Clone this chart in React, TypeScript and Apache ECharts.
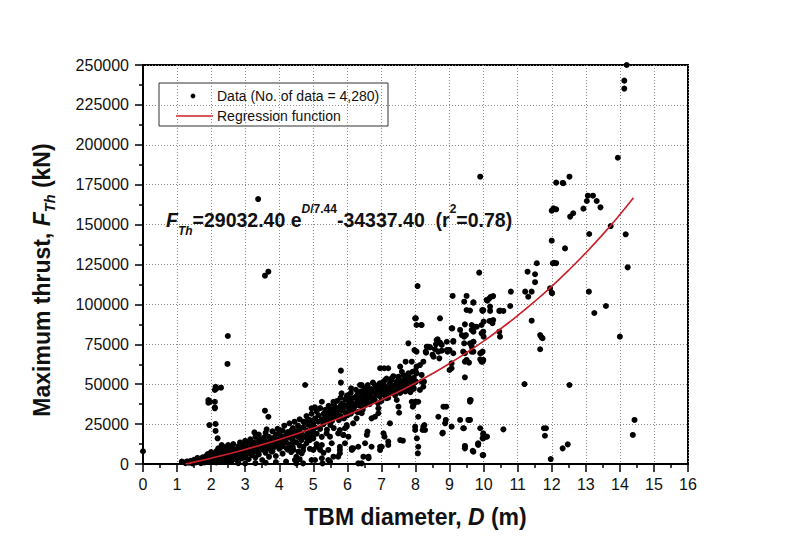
import React, { useEffect, useRef } from "react";
import * as echarts from "echarts";

// TBM diameter D (m), maximum thrust F (kN)
const bandPoints: [number, number][] = [
  [1.15,1200],[1.25,500],[1.3,1500],[1.35,800],[1.4,2000],[1.45,300],[1.5,1800],[1.5,2600],
  [1.55,1000],[1.6,2500],[1.6,3800],[1.65,1500],[1.7,3000],[1.7,500],[1.75,4200],[1.75,2200],[1.8,1000],[1.8,3500],[1.85,5000],[1.85,2000],[1.9,3000],[1.9,6200],[1.95,1200],[1.95,4500],[2.0,2500],[2.0,5500],[2.0,7500],
  [2.05,1500],[2.05,4000],[2.1,6000],[2.1,3000],[2.15,8000],[2.15,1000],[2.2,5000],[2.2,2500],[2.25,7000],[2.25,3800],[2.3,9000],[2.3,1800],[2.35,5500],[2.35,4000],[2.4,7500],[2.4,2800],[2.4,10500],[2.45,6000],[2.45,1200],[2.5,4500],[2.5,8500],[2.5,11500],
  [2.55,3000],[2.55,6500],[2.6,9500],[2.6,5000],[2.6,1800],[2.65,7500],[2.65,12500],[2.7,4000],[2.7,9000],[2.75,6500],[2.75,2500],[2.8,11000],[2.8,8000],[2.85,5000],[2.85,13500],[2.9,7000],[2.9,3500],[2.9,10000],[2.95,12000],[2.95,6000],[3.0,8500],[3.0,4000],[3.0,14500],
  [3.05,10500],[3.05,6500],[3.1,12500],[3.1,3000],[3.1,8000],[3.15,15500],[3.15,9500],[3.2,5500],[3.2,11500],[3.25,13500],[3.25,7500],[3.3,17000],[3.3,10000],[3.3,4000],[3.35,12000],[3.35,8500],[3.4,14500],[3.4,6000],[3.4,18500],[3.45,11000],[3.45,15500],[3.5,9000],[3.5,13000],[3.5,2500],
  [3.55,16500],[3.55,11500],[3.6,7000],[3.6,14000],[3.6,19500],[3.65,12500],[3.65,9500],[3.7,17000],[3.7,4500],[3.75,15000],[3.75,11000],[3.8,20500],[3.8,13500],[3.8,8000],[3.85,16500],[3.85,10500],[3.9,18500],[3.9,14000],[3.9,5000],[3.95,12000],[3.95,22000],[4.0,15500],[4.0,9500],[4.0,19000],
  [4.05,13000],[4.05,17500],[4.1,21000],[4.1,11000],[4.1,6500],[4.15,15500],[4.15,24000],[4.2,18500],[4.2,13500],[4.25,9000],[4.25,20000],[4.3,16500],[4.3,25500],[4.3,12000],[4.35,19000],[4.35,7500],[4.4,22500],[4.4,15000],[4.4,10500],[4.45,18000],[4.45,26500],[4.5,20500],[4.5,13500],[4.5,4500],
  [4.55,17000],[4.55,24000],[4.6,21500],[4.6,11500],[4.6,28000],[4.65,19000],[4.65,15000],[4.7,23000],[4.7,8500],[4.75,26000],[4.75,17500],[4.8,21000],[4.8,30000],[4.8,13000],[4.85,24500],[4.85,19500],[4.9,27500],[4.9,9500],[4.95,22500],[4.95,31500],[5.0,25500],[5.0,16000],[5.0,20000],
  [5.05,28500],[5.05,23000],[5.1,33000],[5.1,19000],[5.1,12500],[5.15,26500],[5.15,30500],[5.2,22000],[5.2,35000],[5.25,28000],[5.25,17000],[5.3,31500],[5.3,25000],[5.3,7000],[5.35,29500],[5.35,34000],[5.4,27000],[5.4,21500],[5.45,32000],[5.45,36500],[5.5,29000],[5.5,24500],[5.5,34500],
  [5.55,31000],[5.55,27000],[5.6,37500],[5.6,33000],[5.6,22500],[5.65,29500],[5.65,35500],[5.7,39500],[5.7,31500],[5.75,27500],[5.75,34000],[5.8,36500],[5.8,30000],[5.8,41500],[5.85,33500],[5.85,38000],[5.9,28500],[5.9,35500],[5.95,40500],[5.95,32000],[6.0,37000],[6.0,30500],[6.0,43000],
  [6.05,34500],[6.05,39500],[6.1,36000],[6.1,31500],[6.1,44500],[6.15,38000],[6.15,33000],[6.2,41500],[6.2,35500],[6.25,46500],[6.25,37500],[6.3,39500],[6.3,32500],[6.3,43500],[6.35,36500],[6.35,41000],[6.4,45500],[6.4,38500],[6.45,34000],[6.45,42500],[6.5,40000],[6.5,47000],[6.5,36500],
  [6.55,43500],[6.55,39000],[6.6,45500],[6.6,41000],[6.6,49500],[6.65,37500],[6.65,44000],[6.7,47000],[6.7,42000],[6.75,39500],[6.75,51000],[6.8,45000],[6.8,40500],[6.85,48000],[6.85,43500],[6.9,38000],[6.9,46500],[6.95,50500],[6.95,42500],[7.0,44500],[7.0,48500],[7.0,39500],
  [7.05,46500],[7.05,51500],[7.1,43000],[7.1,49000],[7.15,45500],[7.15,53500],[7.2,47500],[7.2,41500],[7.25,50500],[7.25,44500],[7.3,52500],[7.3,48000],[7.35,45000],[7.35,55000],[7.4,49500],[7.4,43000],[7.45,51500],[7.45,46500],[7.5,53500],[7.5,48000],
  [7.55,50000],[7.55,44500],[7.6,52000],[7.6,47000],[7.65,55500],[7.65,49500],[7.7,45500],[7.7,53000],[7.75,50500],[7.8,47500],[7.8,56000],[7.85,52000],[7.85,45000],[7.9,49000],[7.95,54000],[7.95,47000],[8.0,51500],[8.0,58500]
];

const lowerPoints: [number, number][] = [
  [2.8,500],[3.0,300],[3.3,500],[3.6,800],[3.9,1200],[4.2,1500],[4.46,2500],[4.6,3000],[4.95,2500],[5.25,3600],[5.49,1500],[5.44,2500],[5.73,4600],
  [5.44,8800],[5.78,8800],[5.49,17100],[5.54,13000],[5.39,19200],[5.73,19200],[5.78,21300],[5.88,18200],[5.93,13000],[6.27,28600],[6.42,31800],
  [6.17,25500],[5.98,24400],[6.59,20300],[6.57,18200],[6.32,10800],[6.13,8800],[6.52,13000],[6.71,10800],[6.47,4600],[6.62,3600],[6.32,400],
  [6.91,34900],[6.81,29600],[6.71,28600],[6.91,31800],[7.06,19200],[7.09,17100],[7.01,10800],[6.96,8800],[7.2,14000],[7.2,11900],[7.63,14600],
  [7.25,25500],[7.5,35900],[7.52,32100],[7.55,15000],[4.5,400],[4.7,400],[5.27,400],[5.05,2500],[5.59,4600],[5.78,6700],[5.78,10800],[6.13,9800],
  [6.17,9800],[5.93,22400],[5.98,23400],[5.88,18200],[6.03,17100],[5.0,18200],[4.85,17100],[4.9,15000],[5.1,10800],[5.0,8800],[5.2,8800],[5.25,11900],
  [4.35,20900],[4.51,19200],[4.59,22400],[4.61,17100],[4.81,16100],[4.71,10800],[4.56,7700],[4.37,13000],[4.22,9800],[3.97,15000],[3.88,13000],
  [4.02,10800],[3.78,7700],[4.41,8800],[4.66,6700],[6.42,400],[6.62,4600],[6.96,10800]
];

const upperPoints: [number, number][] = [
  [4.71,26500],[4.85,27600],[4.95,34900],[5.05,35500],[5.25,39000],[5.59,39000],[4.76,49500],[3.58,33400],[3.68,29600],[3.27,19800],[3.63,21700],
  [4.02,21300],[2.21,9800],[2.31,11900],[2.5,11900],[1.14,1500],[1.28,1500],[1.53,2500],[1.87,4600],[1.92,5600],
  [5.81,58500],[5.81,51000],[6.11,47400],[6.37,49500],[6.42,49500],[6.57,48400],[6.81,49500],[6.91,48400],[5.83,44300],[5.98,42200],[6.13,41200],
  [6.27,42600],[6.52,45300],[6.71,46400],[7.01,45300],[7.3,46400],[7.55,47400],[7.69,48400],[7.94,48100],[7.15,41200],[7.45,40100],[7.89,39000],
  [7.94,37000],[8.03,39000],[7.08,60000],[7.2,60000],[6.96,60000],[7.55,61000],[7.11,52600],[7.3,53700],[7.5,54700],[7.69,55100],[7.84,53700],
  [7.6,57800],[7.79,56800],[7.91,57800],[8.03,56800],[8.18,55800],[8.01,51600],[7.71,64100],[7.89,64100],[8.03,61000],[8.13,62000],[8.23,64100],
  [2.49,80200],[2.48,62700],[2.29,47800],[2.16,47400],[2.11,46400],[2.13,48400],[1.92,40100],[1.97,39000],[1.92,38400],[2.11,39000],[2.11,35500],
  [2.11,34900],[1.95,24400],[2.13,25100],[2.13,20700],[2.19,16100],[0.0,8000],[3.38,166000],[3.58,118000],[3.68,120500]
];

const midPoints: [number, number][] = [
  [8.06,111500],[9.09,105300],[9.5,105300],[9.43,101700],[9.7,101300],[9.5,96500],[9.6,96100],[9.96,96500],[8.01,91300],[8.18,87100],[8.72,91300],
  [9.08,85000],[9.31,84000],[9.45,87500],[9.65,87100],[9.8,86000],[9.94,87100],[9.36,80800],[9.43,79800],[9.7,82900],[9.94,81900],[10.0,79800],
  [8.65,78100],[8.72,76000],[8.92,76600],[9.11,77100],[9.43,75600],[9.6,75600],[9.7,76600],[7.97,71400],[8.03,70400],[8.3,70400],[8.43,73100],
  [8.57,71900],[8.67,70400],[8.77,71000],[8.94,70400],[8.98,71400],[9.45,69400],[9.65,70400],[9.94,69800],[9.9,65600],[9.06,60000],[9.45,64100],
  [9.57,63500],[9.45,54300],[8.18,51600],[8.13,46400],[8.23,48400],[8.25,51600],[8.82,35900],[8.89,27600],[8.87,25500],[8.67,29600],[8.08,29600],
  [9.31,27600],[9.55,27600],[9.6,39000],[9.62,40100],[7.99,23400],[7.99,21300],[8.23,23400],[8.26,24400],[8.79,19200],[9.06,23400],[9.4,22400],
  [8.04,16100],[8.08,10800],[8.07,6700],[9.45,10800],[9.7,7700],[9.84,11900],[9.99,19200],[9.99,16100],[8.08,39000],[7.99,39000],[7.92,35900],
  [8.21,21300],[8.28,21300],[8.62,77700],[8.77,74600],[8.33,73500],[8.53,67200],[8.7,66200],[9.4,70400],[9.0,58900],[9.06,63100],[9.5,65200],
  [9.11,69400],[9.99,65200],[9.94,64100],[9.45,11300],[9.45,9800],[9.68,8300],[9.84,13000],[9.99,5600],[10.07,17100],[9.97,16100],[9.9,22400],
  [9.42,22400],[9.58,27600],[8.8,19600],[8.9,35900],[8.38,73500],[8.31,69700],[7.79,75600],[7.99,91300],[8.03,87100],[8.17,87100],[9.48,80800],
  [9.06,85000],[9.11,76600],[9.0,71400],[8.92,71400],[8.5,68500],[8.6,75000]
];

const highPoints: [number, number][] = [
  [10.21,104800],[10.28,105200],[10.09,102800],[10.17,103800],[10.11,102300],[9.7,101100],[9.99,96500],[10.19,98600],[10.48,96100],[10.58,95900],
  [10.19,95900],[10.46,95900],[9.97,95900],[10.0,89200],[10.21,89600],[10.28,90200],[10.26,88200],[10.17,89600],[9.75,86000],[9.65,84000],
  [9.99,82900],[10.46,82900],[10.48,79800],[9.7,76600],[9.65,73500],[9.9,69400],[9.97,70400],[9.97,64100],[9.7,70400],[10.8,108000],[10.78,99000],
  [10.58,21700],[11.2,50100],[11.22,108000],[11.41,108000],[11.31,104800],[11.29,120500],[11.56,125800],[11.51,118900],[11.51,113900],[11.41,89800],
  [11.66,80800],[11.73,78800],[11.7,79400],[11.66,71900],[11.77,22400],[11.83,22400],[11.8,17700],[11.97,3100],[9.87,119900],[9.9,180000],
  [9.6,40100],[9.6,27600],[9.99,18200],[10.1,17100],[9.97,5600],[9.84,12500],
  [11.95,110100],[12.01,107000],[12.0,107400],[12.03,125800],[12.13,125800],[12.07,126000],[12.0,139900],[12.39,135100],[12.05,160200],[12.13,159600],
  [12.0,158700],[12.54,155000],[12.63,157100],[12.13,176300],[12.34,175900],[12.52,180000],[12.32,176100],[13.06,168100],[13.21,168100],[13.03,164800],
  [13.32,164800],[13.43,160800],[12.93,160000],[13.1,144100],[13.73,149100],[14.17,143900],[14.23,123200],[13.09,108000],[13.59,99000],[13.25,94600],
  [14.0,79800],[12.52,49500],[14.43,27600],[14.38,18200],[12.32,9800],[12.47,12300],[14.2,250000],[14.13,240200],[14.13,235200],[13.94,191900]
];

const regressionD = [1.25,1.5,2,2.5,3,3.5,4,4.5,5,5.5,6,6.5,7,7.5,8,8.5,9,9.5,10,10.5,11,11.5,12,12.5,13,13.5,14,14.4];
const regressionF = [0,1181,3649,6291,9113,12135,15363,18821,22515,26466,30696,35216,40050,45223,50754,56668,62994,69761,76996,84736,93013,101865,111333,121462,132288,143874,156260,166790];

const FONT = "'Liberation Sans', Arial, Helvetica, sans-serif";

export default function App() {
  const ref = useRef<HTMLDivElement>(null);
  useEffect(() => {
    if (!ref.current) return;
    const chart = echarts.init(ref.current, undefined, { renderer: "svg" });
    const allPoints = [...bandPoints, ...lowerPoints, ...upperPoints, ...midPoints, ...highPoints];
    const curve = regressionD.map((d, i) => [d, regressionF[i]]);
    const axisCommon = {
      axisLine: { show: true, onZero: false, lineStyle: { color: "#000", width: 2 } },
      axisTick: { show: true, inside: false, length: 8, lineStyle: { color: "#000", width: 1.5 } },
      minorTick: { show: true, splitNumber: 2, length: 4, lineStyle: { color: "#000", width: 1.5 } },
      splitLine: { show: true, lineStyle: { color: "#8a8a8a", width: 1, type: [1, 2] } },
      minorSplitLine: { show: false },
    };
    const titleRich = {
      b: { fontSize: 23, fontWeight: "bold", fontFamily: FONT, fill: "#111", lineHeight: 30 },
      i: { fontSize: 23, fontWeight: "bold", fontStyle: "italic", fontFamily: FONT, fill: "#111", lineHeight: 30 },
      s: { fontSize: 14.5, fontWeight: "bold", fontStyle: "italic", fontFamily: FONT, fill: "#111", lineHeight: 30, verticalAlign: "bottom" },
    };
    chart.setOption({
      animation: false,
      backgroundColor: "#fff",
      grid: { left: 143, right: 111, top: 65, bottom: 93, show: true, borderColor: "#000", borderWidth: 2, backgroundColor: "transparent" },
      xAxis: {
        type: "value", min: 0, max: 16, interval: 1,
        ...axisCommon,
        axisLabel: { show: true, margin: 12, color: "#111", fontSize: 16, fontFamily: FONT, showMinLabel: true, showMaxLabel: true },
      },
      yAxis: {
        type: "value", min: 0, max: 250000, interval: 25000,
        ...axisCommon,
        axisLabel: { show: true, margin: 14, color: "#111", fontSize: 16, fontFamily: FONT, formatter: (v: number) => String(v), showMinLabel: true, showMaxLabel: true },
      },
      series: [
        {
          type: "scatter",
          data: allPoints,
          symbol: "circle",
          symbolSize: 6,
          itemStyle: { color: "#000", opacity: 1 },
          z: 3,
        },
        {
          type: "line",
          data: curve,
          showSymbol: false,
          symbol: "none",
          smooth: true,
          lineStyle: { color: "#cc1f27", width: 1.6 },
          z: 4,
        },
      ],
      graphic: [
        {
          type: "text",
          x: 415.5,
          y: 517,
          style: { text: "{b|TBM diameter, }{i|D}{b| (m)}", align: "center", verticalAlign: "middle", rich: titleRich },
        },
        {
          type: "text",
          x: 42,
          y: 280,
          rotation: Math.PI / 2,
          style: { text: "{b|Maximum thrust, }{i|F}{s|Th}{b| (kN)}", align: "center", verticalAlign: "middle", rich: titleRich },
        },
        {
          type: "group",
          z: 100,
          children: [
            { type: "rect", shape: { x: 159, y: 83, width: 229, height: 43 }, style: { fill: "#fff", stroke: "#333", lineWidth: 1 } },
            { type: "circle", shape: { cx: 193, cy: 96, r: 2.4 }, style: { fill: "#000" } },
            { type: "text", x: 217, y: 96, style: { text: "Data (No. of data = 4,280)", font: `14px ${FONT}`, fill: "#111", verticalAlign: "middle" } },
            { type: "line", shape: { x1: 176, y1: 116, x2: 213, y2: 116 }, style: { stroke: "#cc1f27", lineWidth: 1.5 } },
            { type: "text", x: 217, y: 116, style: { text: "Regression function", font: `14px ${FONT}`, fill: "#111", verticalAlign: "middle" } },
          ],
        },
        {
          type: "text",
          x: 166,
          y: 220,
          z: 100,
          style: {
            text: "{i|F}{s|Th}{b|=29032.40 e}{si|D}{sp|/7.44}{b|-34337.40  (r}{sp|2}{b|=0.78)}",
            verticalAlign: "middle",
            rich: {
              b: { fontSize: 19.5, fontWeight: "bold", fontFamily: FONT, fill: "#111", lineHeight: 34 },
              i: { fontSize: 19.5, fontWeight: "bold", fontStyle: "italic", fontFamily: FONT, fill: "#111", lineHeight: 34 },
              s: { fontSize: 12, fontWeight: "bold", fontStyle: "italic", fontFamily: FONT, fill: "#111", lineHeight: 34, verticalAlign: "bottom" },
              si: { fontSize: 12, fontWeight: "bold", fontStyle: "italic", fontFamily: FONT, fill: "#111", lineHeight: 34, verticalAlign: "top" },
              sp: { fontSize: 12, fontWeight: "bold", fontFamily: FONT, fill: "#111", lineHeight: 34, verticalAlign: "top" },
            },
          },
        },
      ],
    });
    return () => chart.dispose();
  }, []);
  return <div ref={ref} style={{ width: 799, height: 557, margin: -8 }} />;
}
